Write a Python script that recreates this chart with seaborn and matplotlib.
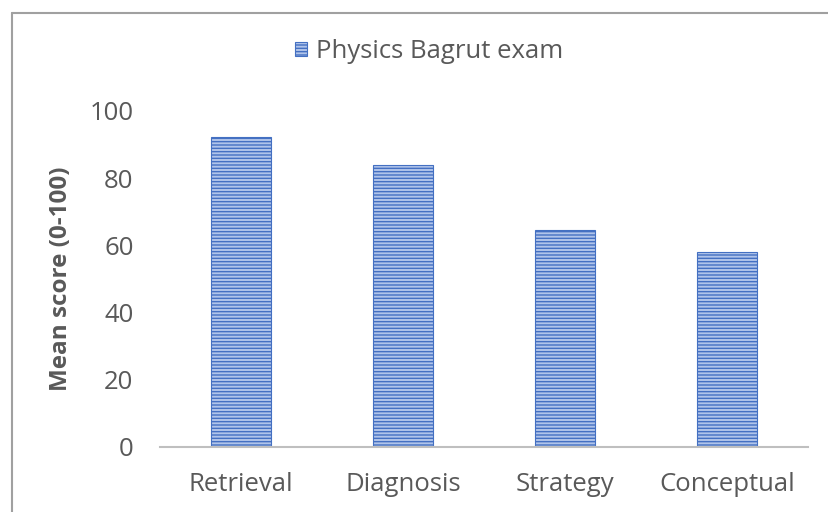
import matplotlib
matplotlib.use("Agg")
import matplotlib.pyplot as plt
import seaborn as sns
import pandas as pd
from matplotlib.lines import Line2D
from matplotlib.patches import Patch

categories = ["Retrieval", "Diagnosis", "Strategy", "Conceptual"]
scores = [92.2, 84.0, 64.5, 57.9]
series_name = "Physics Bagrut exam"
y_ticks = [0, 20, 40, 60, 80, 100]
y_label = "Mean score (0-100)"

sns.set_theme(style="white")
plt.rcParams["font.family"] = ["Open Sans", "DejaVu Sans"]
plt.rcParams["hatch.linewidth"] = 1.0

df = pd.DataFrame({"category": categories, "score": scores})

W, H = 829, 512
fig = plt.figure(figsize=(W / 100, H / 100), dpi=100)
ax = fig.add_axes([160 / W, (H - 447) / H, (808 - 160) / W, (447 - 111) / H])

face = "#b0c4ea"
edge = "#4470c2"
HATCH = "-----"
sns.barplot(data=df, x="category", y="score", ax=ax, width=0.37,
            color=face, saturation=1, edgecolor=edge, linewidth=0.8)
for p in ax.patches:
    p.set_hatch(HATCH)
    p.set_facecolor(face)
    p.set_edgecolor(edge)

ax.set_xlim(-0.5, 3.5)
ax.set_ylim(0, 100)
ax.set_yticks(y_ticks)
ax.set_yticklabels([str(t) for t in y_ticks])
ax.set_xlabel("")
ax.set_ylabel(y_label, fontsize=17.5, fontweight="bold", color="#595959", labelpad=12)
for s in ["left", "right", "top"]:
    ax.spines[s].set_visible(False)
ax.spines["bottom"].set_color("#bfbfbf")
ax.spines["bottom"].set_linewidth(1.5)
ax.tick_params(axis="both", length=0, colors="#595959", labelsize=18.5)
ax.tick_params(axis="y", pad=19)
ax.tick_params(axis="x", pad=18)

handle = Patch(facecolor=face, edgecolor=edge, hatch=HATCH, linewidth=0.8)
leg = fig.legend([handle], [series_name], loc="center", bbox_to_anchor=(429 / W, 1 - 52 / H),
                 frameon=False, fontsize=18.5, handlelength=0.45, handleheight=0.45,
                 handletextpad=0.35, labelcolor="#595959")

fig.add_artist(Line2D([12 / W, 12 / W], [0, 1 - 13 / H], transform=fig.transFigure,
                      color="#a0a0a0", linewidth=1.5))
fig.add_artist(Line2D([12 / W, 1], [1 - 13 / H, 1 - 13 / H], transform=fig.transFigure,
                      color="#a0a0a0", linewidth=1.5))

fig.savefig("out.png", dpi=100)
